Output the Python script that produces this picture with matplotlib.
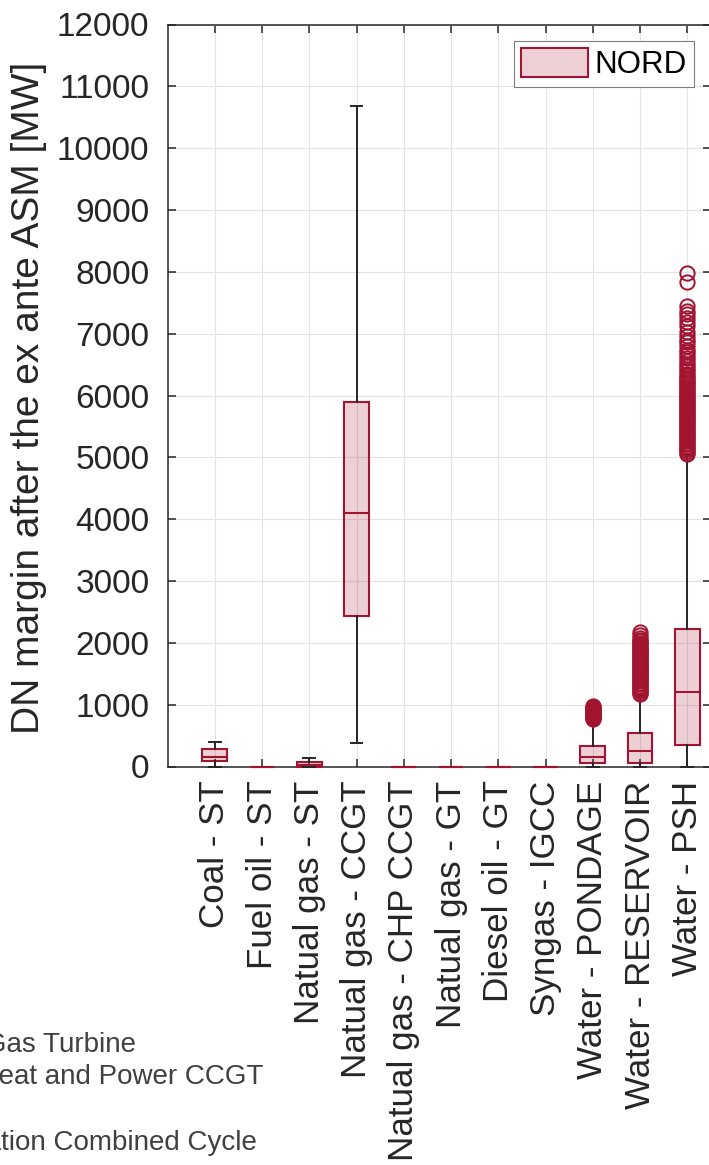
import matplotlib
matplotlib.use("Agg")
import matplotlib.pyplot as plt
from matplotlib.patches import Patch

plt.rcParams.update({
    "font.family": ["Liberation Sans", "DejaVu Sans"],
    "axes.edgecolor": "#262626", "axes.linewidth": 1.1,
    "xtick.color": "#262626", "ytick.color": "#262626",
})

C_BOX = "#A2142F"                    # edge / outlier red
C_FILL = (0.635, 0.078, 0.184, 0.2)  # translucent box face
C_WHISK = "#262626"

categories = ["Coal - ST", "Fuel oil - ST", "Natual gas - ST", "Natual gas - CCGT",
              "Natual gas - CHP CCGT", "Natual gas - GT", "Diesel oil - GT",
              "Syngas - IGCC", "Water - PONDAGE", "Water - RESERVOIR", "Water - PSH"]

# box statistics per technology (MW)
q1     = [95,  0, 0,  2434, 0, 0, 0, 0, 52,  55,  343]
median = [160, 0, 20, 4095, 0, 0, 0, 0, 158, 256, 1210]
q3     = [280, 0, 65, 5900, 0, 0, 0, 0, 336, 537, 2224]
whislo = [0,   0, 0,  375,  0, 0, 0, 0, 0,   0,   0]
whishi = [390, 0, 130, 10690, 0, 0, 0, 0, 760, 1150, 5030]

fliers_pondage = [770, 785, 800, 815, 830, 845, 860, 875, 890, 905, 920, 935,
                  950, 965, 980]
fliers_reservoir = [1175, 1195, 1215, 1240, 1260, 1285, 1305, 1330, 1350, 1375,
                    1395, 1420, 1440, 1465, 1485, 1510, 1530, 1555, 1575, 1600,
                    1620, 1645, 1665, 1690, 1710, 1735, 1755, 1780, 1800, 1825,
                    1845, 1870, 1890, 1915, 1935, 1960, 1980, 2005, 2025, 2050,
                    2080, 2120, 2170]
fliers_psh = [5050, 5075, 5100, 5130, 5155, 5180, 5210, 5235, 5260, 5290, 5315,
              5340, 5370, 5395, 5420, 5450, 5475, 5500, 5530, 5555, 5580, 5610,
              5635, 5660, 5690, 5715, 5740, 5770, 5795, 5820, 5850, 5875, 5900,
              5930, 5955, 5980, 6010, 6035, 6060, 6090, 6115, 6140, 6170, 6195,
              6220, 6250, 6280, 6320, 6350, 6390, 6430, 6470, 6510, 6560, 6600,
              6650, 6700, 6740, 6800, 6870, 6900, 6960, 7030, 7120, 7190, 7250,
              7310, 7370, 7440, 7830, 7980]
fliers = [[], [], [], [], [], [], [], [], fliers_pondage, fliers_reservoir, fliers_psh]

legend_label = "NORD"
notes = ["GT: Gas Turbine", "CHP CCGT: Combined Heat and Power CCGT",
         "IGCC: Integrated Gasification Combined Cycle"]

stats = [dict(label=c, q1=a, med=m, q3=b, whislo=lo, whishi=hi, fliers=f)
         for c, a, m, b, lo, hi, f in zip(categories, q1, median, q3, whislo, whishi, fliers)]

W, H = 709, 1165
fig = plt.figure(figsize=(W / 100, H / 100), dpi=100)
ax = fig.add_axes([167.5 / W, (H - 766.5) / H, 543.4 / W, 742 / H])

pos = list(range(1, len(categories) + 1))
bp = ax.bxp(stats, positions=pos, widths=0.52, capwidths=0.25, patch_artist=True,
            manage_ticks=False,
            boxprops=dict(facecolor=C_FILL, edgecolor=C_BOX, linewidth=1.5),
            medianprops=dict(color=C_BOX, linewidth=1.5),
            whiskerprops=dict(color=C_WHISK, linewidth=1.4),
            capprops=dict(color=C_WHISK, linewidth=1.4),
            flierprops=dict(marker="o", markersize=10.3, markerfacecolor="none",
                            markeredgecolor=C_BOX, markeredgewidth=1.4))
for key in ("boxes", "medians", "whiskers", "caps", "fliers"):
    for art in bp[key]:
        art.set_clip_on(False)
        art.set_zorder(3)
for art in bp["medians"]:
    art.set_zorder(3.5)

ax.set_xlim(0, 11.5)
ax.set_ylim(0, 12000)
ax.set_yticks(range(0, 12001, 1000))
ax.set_xticks(pos)
ax.set_xticklabels(categories, rotation=90, ha="center", va="top")
ax.tick_params(direction="in", length=5.8, width=1.1, top=True, right=True)
ax.tick_params(axis="y", labelsize=24, pad=13)
ax.tick_params(axis="x", labelsize=25.2, pad=10)
ax.grid(True, color="#E3E3E3", linewidth=0.8)
ax.set_axisbelow(True)

ax.set_ylabel("DN margin after the ex ante ASM [MW]", fontsize=28, color="#262626")
ax.yaxis.set_label_coords(-0.221, 0.497)

handle = Patch(facecolor=C_FILL, edgecolor=C_BOX, linewidth=1.5)
leg = ax.legend([handle], [legend_label], loc="upper right",
                bbox_to_anchor=((693.5 - 167.5) / 543.4, (766.5 - 41) / 742),
                borderaxespad=0, fontsize=22.5, fancybox=False, framealpha=1,
                edgecolor="#7F7F7F", handlelength=2.15, handleheight=1.05,
                handletextpad=0.2, borderpad=0.22)
leg.get_frame().set_linewidth(0.8)

# abbreviation key, partly running off the left edge
note_right = [136, 263, 257]
note_base = [1051.5, 1084, 1150]
for txt, xr, yb in zip(notes, note_right, note_base):
    fig.text(xr / W, 1 - yb / H, txt, ha="right", va="baseline",
             fontsize=20, color="#404040")

fig.savefig("out.png", dpi=100)
